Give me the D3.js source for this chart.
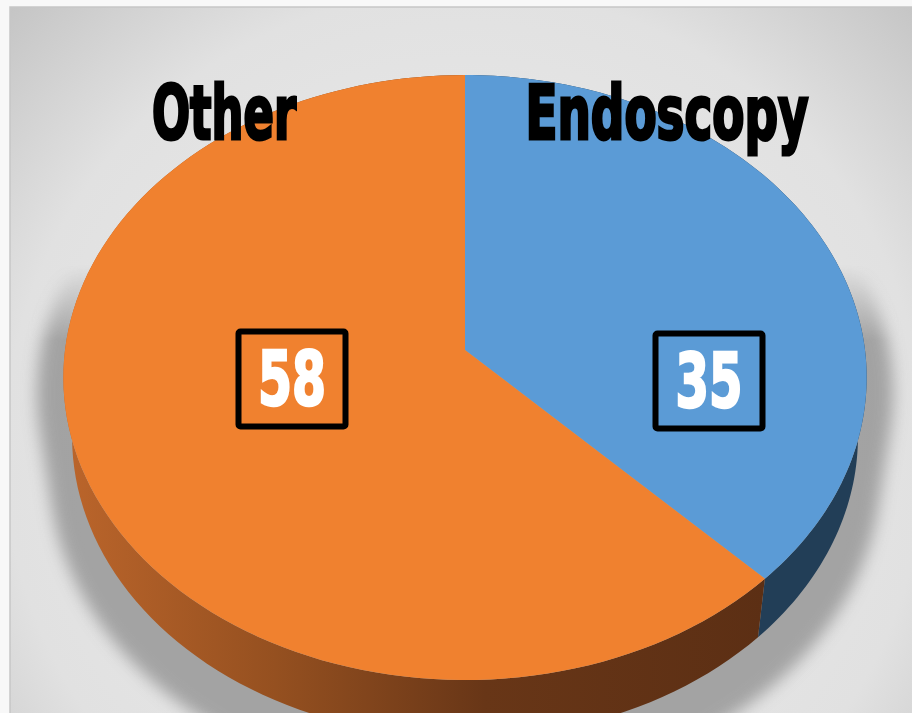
<!DOCTYPE html>
<html>
<head>
<meta charset="utf-8">
<script src="https://cdn.jsdelivr.net/npm/d3@7"></script>
<style>
body { margin: 0; background: #f8f8f8; overflow: hidden; }
svg { display: block; }
</style>
</head>
<body>
<svg id="chart"></svg>
<script>
const categories = ["Endoscopy", "Other"]
const values = [35, 58]
const topColors = ["#5b9bd6", "#f0812f"]

const width = 912
const height = 713

// perspective view of the disk: a = angle clockwise from 12 o'clock, r = 0..1, z = 0 top .. 1 bottom
const view = {cx: 465, cy: 350, A: 400, B: 300, C: 61, p: 0.0909, q: 0.022}
const project = (a, r, z) => {
    const X = r * Math.sin(a), Y = r * Math.cos(a)
    const w = 1 + view.p * Y + view.q * z
    return [view.cx + view.A * X / w, view.cy - (view.B * Y - view.C * z) / w]
}
const arcPoints = (a0, a1, r, z) => d3.range(0, 1.0001, 1 / 120).map(t => project(a0 + (a1 - a0) * t, r, z))

// label layout (category titles above, boxed values inside)
const titleLayout = [{x: 667, w: 283}, {x: 224, w: 144}]
const valueLayout = [{x: 709, y: 381, w: 67}, {x: 292, y: 379, w: 68}]

const svg = d3.select("#chart")
    .attr("width", width)
    .attr("height", height)

const defs = svg.append("defs")

const bg = defs.append("radialGradient")
    .attr("id", "bg")
    .attr("gradientUnits", "userSpaceOnUse")
    .attr("cx", 465).attr("cy", 450).attr("r", 640)
bg.append("stop").attr("offset", 0).attr("stop-color", "#eeeeee")
bg.append("stop").attr("offset", 0.72).attr("stop-color", "#e1e1e1")
bg.append("stop").attr("offset", 1).attr("stop-color", "#c4c4c4")

const side = defs.append("linearGradient")
    .attr("id", "sideOrange")
    .attr("gradientUnits", "userSpaceOnUse")
    .attr("x1", 65).attr("x2", 765).attr("y1", 0).attr("y2", 0)
side.append("stop").attr("offset", 0).attr("stop-color", "#bb652b")
side.append("stop").attr("offset", 0.3).attr("stop-color", "#955020")
side.append("stop").attr("offset", 0.6).attr("stop-color", "#683617")
side.append("stop").attr("offset", 1).attr("stop-color", "#5c2f14")

defs.append("filter")
    .attr("id", "blur")
    .attr("x", "-20%").attr("y", "-20%").attr("width", "140%").attr("height", "140%")
    .append("feGaussianBlur").attr("stdDeviation", 8)

const fade = defs.append("linearGradient")
    .attr("id", "fade")
    .attr("gradientUnits", "userSpaceOnUse")
    .attr("x1", 0).attr("x2", 0).attr("y1", 265).attr("y2", 340)
fade.append("stop").attr("offset", 0).attr("stop-color", "#fff").attr("stop-opacity", 0)
fade.append("stop").attr("offset", 1).attr("stop-color", "#fff").attr("stop-opacity", 1)
defs.append("mask").attr("id", "shadowMask")
    .append("rect")
    .attr("width", width).attr("height", height)
    .attr("fill", "url(#fade)")

// chart area
svg.append("rect")
    .attr("x", 10).attr("y", 7)
    .attr("width", width + 20).attr("height", height + 20)
    .attr("fill", "url(#bg)")
    .attr("stroke", "#c6c6c6")
    .attr("stroke-width", 1.5)

const pie = d3.pie().sort(null).value(d => d)
const arcs = pie(values)

const line = d3.line()

// soft shadow under the pie
const shadowPts = d3.polygonHull(
    arcPoints(0, 2 * Math.PI, 1.07, 0.2).concat(arcPoints(0, 2 * Math.PI, 1.07, 1.5)))
svg.append("path")
    .attr("d", line(shadowPts) + "Z")
    .attr("fill", "#888")
    .attr("opacity", 0.7)
    .attr("filter", "url(#blur)")
    .attr("mask", "url(#shadowMask)")

const pieG = svg.append("g")

// side walls
pieG.selectAll("path.wall")
    .data(arcs)
    .join("path")
    .attr("class", "wall")
    .attr("d", d => line(arcPoints(d.startAngle, d.endAngle, 1, 0)
        .concat(arcPoints(d.endAngle, d.startAngle, 1, 1))) + "Z")
    .attr("fill", (d, i) => i === 0 ? "#223e57" : "url(#sideOrange)")

// top faces
pieG.selectAll("path.top")
    .data(arcs)
    .join("path")
    .attr("class", "top")
    .attr("d", d => line([project(0, 0, 0)].concat(arcPoints(d.startAngle, d.endAngle, 1, 0))) + "Z")
    .attr("fill", (d, i) => topColors[i])

// category titles
svg.selectAll("text.title")
    .data(categories)
    .join("text")
    .attr("class", "title")
    .attr("x", (d, i) => titleLayout[i].x)
    .attr("y", 139)
    .attr("text-anchor", "middle")
    .attr("textLength", (d, i) => titleLayout[i].w)
    .attr("lengthAdjust", "spacingAndGlyphs")
    .attr("font-family", "Impact, 'Liberation Sans Narrow', 'DejaVu Sans Condensed', 'DejaVu Sans', sans-serif")
    .attr("font-weight", "bold")
    .attr("font-size", 74)
    .attr("fill", "#000")
    .attr("stroke", "#000")
    .attr("stroke-width", 3)
    .text(d => d)

// boxed values
const vg = svg.selectAll("g.value")
    .data(values)
    .join("g")
    .attr("class", "value")
    .attr("transform", (d, i) => `translate(${valueLayout[i].x},${valueLayout[i].y})`)

vg.append("rect")
    .attr("x", -53.5).attr("y", -47.5)
    .attr("width", 107).attr("height", 95)
    .attr("rx", 2)
    .attr("fill", "none")
    .attr("stroke", "#000")
    .attr("stroke-width", 6)

vg.append("text")
    .attr("y", 26)
    .attr("text-anchor", "middle")
    .attr("textLength", (d, i) => valueLayout[i].w)
    .attr("lengthAdjust", "spacingAndGlyphs")
    .attr("font-family", "Impact, 'Liberation Sans Narrow', 'DejaVu Sans Condensed', 'DejaVu Sans', sans-serif")
    .attr("font-weight", "bold")
    .attr("font-size", 74)
    .attr("fill", "#fff")
    .attr("stroke", "#fff")
    .attr("stroke-width", 2.5)
    .text(d => d)
</script>
</body>
</html>
